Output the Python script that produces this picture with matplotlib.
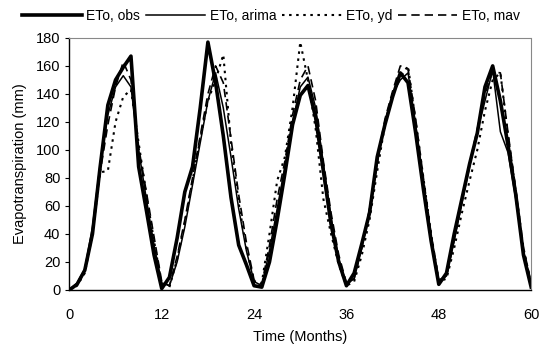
import matplotlib.pyplot as plt
import matplotlib

matplotlib.rcParams['font.family'] = ['Liberation Sans', 'DejaVu Sans']

# data (monthly)
months = list(range(0, 61))
eto_obs = [0, 4, 14, 40, 88, 132, 150, 159, 167, 88, 57, 25, 1,
           9, 37, 70, 88, 130, 177, 148, 110, 66, 32, 18, 3,
           2, 20, 50, 83, 118, 139, 146, 123, 85, 47, 20, 3,
           12, 33, 55, 95, 118, 138, 155, 148, 112, 72, 35, 4,
           12, 40, 65, 90, 112, 145, 160, 135, 103, 68, 25, 2]
eto_arima = [0, 5, 15, 45, 90, 125, 145, 153, 145, 100, 65, 32, 5,
             3, 20, 45, 75, 105, 135, 155, 130, 95, 58, 28, 6,
             3, 28, 58, 88, 120, 145, 152, 130, 90, 52, 22, 4,
             8, 30, 57, 90, 120, 140, 150, 155, 118, 78, 38, 6,
             10, 35, 62, 88, 113, 135, 157, 113, 98, 65, 28, 4]
eto_yd = [0, 3, 12, 40, 84, 85, 120, 138, 143, 105, 68, 35, 4,
          2, 22, 48, 78, 108, 135, 150, 168, 105, 62, 30, 6,
          5, 40, 78, 95, 130, 177, 150, 115, 65, 40, 18, 3,
          6, 25, 50, 85, 118, 140, 152, 160, 120, 80, 40, 6,
          8, 30, 55, 78, 100, 128, 150, 155, 110, 70, 30, 4]
eto_mav = [0, 4, 14, 42, 84, 118, 145, 163, 150, 102, 70, 38, 6,
           3, 24, 50, 80, 110, 140, 160, 148, 108, 68, 34, 7,
           4, 32, 65, 92, 125, 150, 160, 135, 92, 55, 25, 5,
           8, 30, 58, 92, 122, 142, 160, 158, 122, 80, 40, 7,
           10, 36, 63, 90, 115, 140, 156, 155, 112, 72, 30, 5]

fig = plt.figure(figsize=(5.42, 3.51), dpi=100)
ax = fig.add_axes([0.128, 0.174, 0.852, 0.718])

ax.plot(months, eto_obs, color='black', lw=2.6, label='ETo, obs')
ax.plot(months, eto_arima, color='black', lw=1.1, label='ETo, arima')
ax.plot(months, eto_yd, color='black', lw=1.5, ls=(0, (1.2, 2.2)), label='ETo, yd')
ax.plot(months, eto_mav, color='black', lw=1.2, ls=(0, (5, 3)), label='ETo, mav')

ax.set_xlim(0, 60)
ax.set_ylim(0, 180)
ax.set_xticks(range(0, 61, 12))
ax.set_yticks(range(0, 181, 20))
ax.tick_params(axis='x', length=0, labelsize=10.5, pad=13)
ax.tick_params(axis='y', length=3, direction='out', labelsize=10.5)

for side in ['top', 'right']:
    ax.spines[side].set_color('#888888')
    ax.spines[side].set_linewidth(0.8)
    ax.spines[side].set_linestyle((0, (1, 1)))
ax.spines['bottom'].set_linewidth(1.0)
ax.spines['left'].set_linewidth(1.0)

ax.set_xlabel('Time (Months)', fontsize=10.5, labelpad=6)
ax.set_ylabel('Evapotranspiration (mm)', fontsize=10.5, labelpad=6)

fig.legend(loc='upper center', bbox_to_anchor=(0.5, 1.01), ncol=4, frameon=False,
           fontsize=10, handlelength=4.3, handletextpad=0.3, columnspacing=0.4)

plt.savefig('out.png', dpi=100)
